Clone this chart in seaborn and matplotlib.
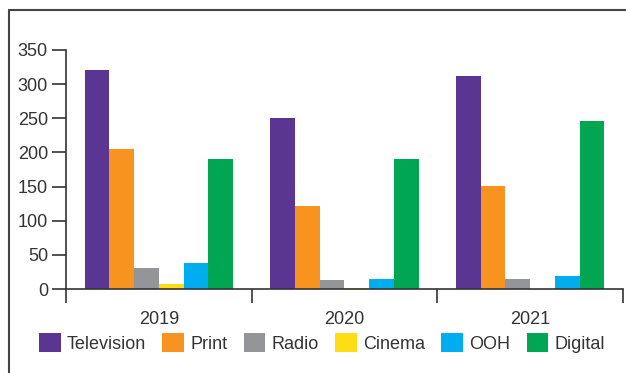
import matplotlib
matplotlib.use("Agg")
import matplotlib.pyplot as plt
from matplotlib.lines import Line2D
import seaborn as sns
import pandas as pd

years = ["2019", "2020", "2021"]
channels = ["Television", "Print", "Radio", "Cinema", "OOH", "Digital"]
television = [320, 250, 312]
print_ = [205, 122, 151]
radio = [31, 13, 15]
cinema = [7, 2, 0]
ooh = [38, 15, 19]
digital = [190, 190, 246]
colors = ["#5B3592", "#F7931E", "#939598", "#FFDD15", "#00AEEF", "#00A651"]
yticks = [0, 50, 100, 150, 200, 250, 300, 350]

series = [television, print_, radio, cinema, ooh, digital]
rows = []
for ch, vals in zip(channels, series):
    for yr, v in zip(years, vals):
        rows.append({"year": yr, "channel": ch, "value": v})
df = pd.DataFrame(rows)

sns.set_style("white")
plt.rcParams["font.family"] = ["Liberation Sans", "DejaVu Sans"]
text_color = "#333333"
fs = 13

fig = plt.figure(figsize=(6.26, 3.73), dpi=100)
ax = fig.add_axes([66 / 626, 1 - 289 / 373, 557 / 626, 239 / 373])

sns.barplot(data=df, x="year", y="value", hue="channel", order=years,
            hue_order=channels, palette=colors, saturation=1, width=0.8,
            linewidth=0, edgecolor="none", ax=ax)
handles, labels = ax.get_legend_handles_labels()
if ax.get_legend() is not None:
    ax.get_legend().remove()

ax.set_xlim(-0.5, 2.5)
ax.set_ylim(0, 350)
ax.set_yticks(yticks)
ax.set_xlabel("")
ax.set_ylabel("")

for side in ["top", "right"]:
    ax.spines[side].set_visible(False)
for side in ["left", "bottom"]:
    ax.spines[side].set_color(text_color)
    ax.spines[side].set_linewidth(1.2)

ax.tick_params(axis="y", direction="out", length=10, width=1.2, color=text_color,
               labelsize=fs, labelcolor=text_color, pad=3, left=True)
ax.tick_params(axis="x", which="major", length=0, labelsize=fs,
               labelcolor=text_color, pad=16)
ax.set_xticks([-0.5, 0.5, 1.5, 2.5], minor=True)
ax.tick_params(axis="x", which="minor", direction="out", length=10, width=1.2,
               color=text_color, bottom=True)

# Frame around the panel
frame_kw = dict(color="#444444", linewidth=1.5, transform=fig.transFigure)
fig.add_artist(Line2D([9 / 626, 1.0], [1 - 10 / 373, 1 - 10 / 373], **frame_kw))
fig.add_artist(Line2D([9 / 626, 9 / 626], [0.0, 1 - 10 / 373], **frame_kw))

fig.legend(handles, labels, loc="center", bbox_to_anchor=(322 / 626, 1 - 343 / 373),
           ncol=6, frameon=False, fontsize=fs, labelcolor=text_color,
           handlelength=1.2, handleheight=1.2, handletextpad=0.35,
           columnspacing=0.9, borderaxespad=0)

fig.savefig("out.png", dpi=100)
